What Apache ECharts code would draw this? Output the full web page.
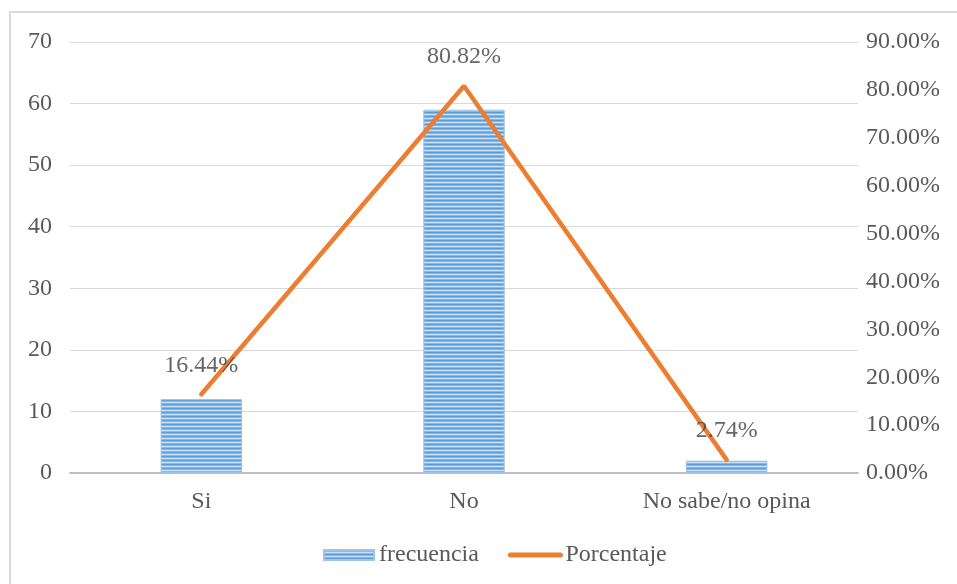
<!DOCTYPE html>
<html>
<head>
<meta charset="utf-8">
<script src="https://cdn.jsdelivr.net/npm/echarts@6/dist/echarts.min.js"></script>
<style>
  html, body { margin: 0; padding: 0; background: #fff; }
  #wrap { position: relative; width: 957px; height: 584px; overflow: hidden; }
  #frame { position: absolute; left: 9px; top: 11px; width: 1000px; height: 700px; border-left: 2px solid #d9d9d9; border-top: 2px solid #d9d9d9; }
  #chart { position: absolute; left: 0; top: 0; width: 957px; height: 584px; }
</style>
</head>
<body>
<div id="wrap">
  <div id="frame"></div>
  <div id="chart"></div>
</div>
<script>
const categories = ["Si", "No", "No sabe/no opina"];
const frecuencia = [12, 59, 2];
const porcentaje = [16.44, 80.82, 2.74];

// striped fill like the original bars
function stripes() {
  const c = document.createElement("canvas");
  c.width = 4; c.height = 4;
  const ctx = c.getContext("2d");
  const rows = ["#5b9bd5", "#8cb9e4", "#c6ddf3", "#8cb9e4"];
  rows.forEach((col, i) => { ctx.fillStyle = col; ctx.fillRect(0, i, 4, 1); });
  return c;
}

const chart = echarts.init(document.getElementById("chart"));
const font = "'Liberation Serif', 'Times New Roman', serif";
const txt = "#595959";
const fs = 24;

chart.setOption({
  animation: false,
  textStyle: { fontFamily: font },
  grid: { left: 70, right: 99, top: 42, bottom: 111 },
  legend: {
    left: 318, top: 538,
    itemWidth: 50, itemHeight: 10, itemGap: 29,
    textStyle: { fontFamily: font, fontSize: fs, color: txt },
    data: [
      { name: "frecuencia", icon: "rect" },
      { name: "Porcentaje", itemStyle: { opacity: 0 }, lineStyle: { width: 5, cap: "round" } }
    ]
  },
  xAxis: {
    type: "category",
    data: categories,
    axisLine: { lineStyle: { color: "#bfbfbf", width: 2 } },
    axisTick: { show: false },
    axisLabel: { color: txt, fontSize: fs, fontFamily: font, margin: 17 }
  },
  yAxis: [
    {
      type: "value", min: 0, max: 70, interval: 10,
      axisLine: { show: false }, axisTick: { show: false },
      splitLine: { lineStyle: { color: "#d9d9d9" } },
      axisLabel: { color: txt, fontSize: fs, fontFamily: font, margin: 18 }
    },
    {
      type: "value", min: 0, max: 90, interval: 10,
      axisLine: { show: false }, axisTick: { show: false },
      splitLine: { show: false },
      axisLabel: { color: txt, fontSize: fs, fontFamily: font, margin: 8,
        formatter: (v) => v.toFixed(2) + "%" }
    }
  ],
  series: [
    {
      name: "frecuencia",
      type: "bar",
      data: frecuencia,
      barWidth: "31%",
      itemStyle: {
        color: { image: stripes(), repeat: "repeat" },
        borderColor: "#9dc3e6", borderWidth: 1
      }
    },
    {
      name: "Porcentaje",
      type: "line",
      yAxisIndex: 1,
      data: porcentaje,
      symbol: "none",
      lineStyle: { color: "#ed7d31", width: 4.5, cap: "round" },
      itemStyle: { color: "#ed7d31" },
      z: 3
    },
    {
      // carries the percentage labels above the line points
      name: "etiquetas",
      type: "scatter",
      yAxisIndex: 1,
      data: porcentaje,
      symbolSize: 0,
      label: {
        show: true, position: "top", distance: 17,
        color: "#404040", fontSize: fs, fontFamily: font,
        formatter: (p) => p.value.toFixed(2) + "%"
      },
      z: 4
    }
  ]
});
</script>
</body>
</html>
